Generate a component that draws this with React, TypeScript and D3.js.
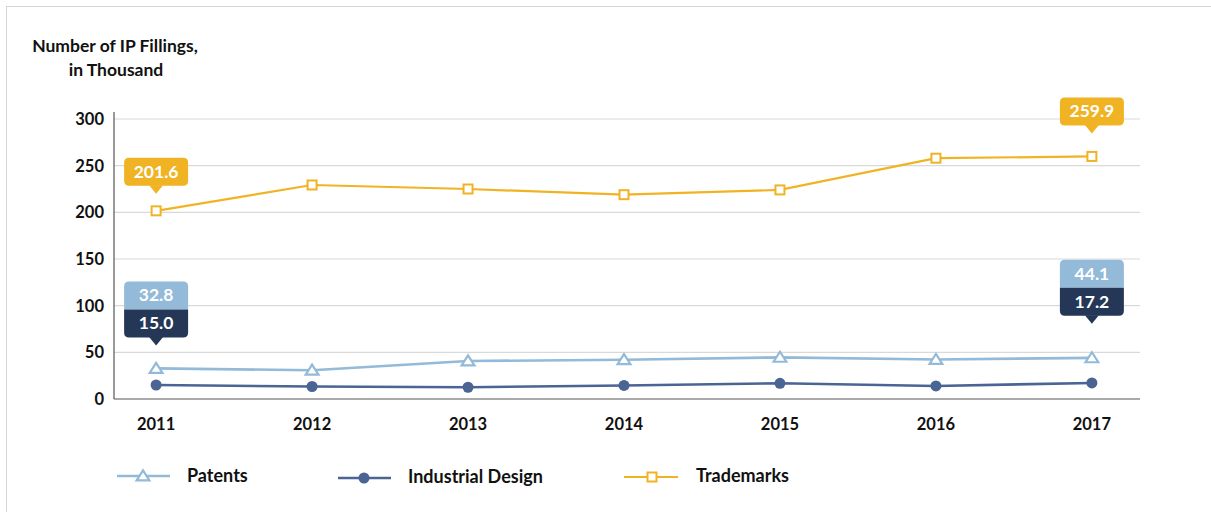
import React from "react";
import * as d3 from "d3";

const years = ["2011", "2012", "2013", "2014", "2015", "2016", "2017"];
const patents = [32.8, 30.8, 40.7, 42.1, 44.6, 42.3, 44.1];
const industrialDesign = [15.0, 13.4, 12.6, 14.5, 16.8, 14.0, 17.2];
const trademarks = [201.6, 229.3, 225.0, 218.9, 224.0, 258.0, 259.9];
const yTicks = [0, 50, 100, 150, 200, 250, 300];

const C_PAT = "#93BAD8";
const C_ID = "#4A6494";
const C_ID_DARK = "#253757";
const C_TM = "#F0B323";
const FONT = "Lato, 'Open Sans', sans-serif";

export default function App() {
  const W = 1211, H = 512;
  const left = 114, right = 1140, top = 119, bottom = 399;
  const x = d3.scalePoint<string>().domain(years).range([left, 1134]).padding(0.27);
  const y = d3.scaleLinear().domain([0, 300]).range([bottom, top]);
  const line = d3.line<number>().x((_, i) => x(years[i])!).y((d) => y(d));

  const tri = (cx: number, cy: number, s: number) =>
    `M${cx},${cy - s * 0.7}L${cx + s * 0.8},${cy + s * 0.55}L${cx - s * 0.8},${cy + s * 0.55}Z`;

  const callout = (cx: number, tipY: number, parts: { v: number; fill: string }[], key: string) => {
    const w = 64, h = 28, tipH = 8, tipW = 7;
    const totalH = h * parts.length;
    const bottomY = tipY - tipH;
    const topY = bottomY - totalH;
    const lastFill = parts[parts.length - 1].fill;
    return (
      <g key={key}>
        {parts.map((p, i) => {
          const yy = topY + i * h;
          const rTop = i === 0, rBot = i === parts.length - 1;
          const r = 5;
          const x0 = cx - w / 2, x1 = cx + w / 2, y0 = yy, y1 = yy + h;
          const d =
            `M${x0 + (rTop ? r : 0)},${y0}` +
            `L${x1 - (rTop ? r : 0)},${y0}` +
            (rTop ? `Q${x1},${y0} ${x1},${y0 + r}` : "") +
            `L${x1},${y1 - (rBot ? r : 0)}` +
            (rBot ? `Q${x1},${y1} ${x1 - r},${y1}` : "") +
            `L${x0 + (rBot ? r : 0)},${y1}` +
            (rBot ? `Q${x0},${y1} ${x0},${y1 - r}` : "") +
            `L${x0},${y0 + (rTop ? r : 0)}` +
            (rTop ? `Q${x0},${y0} ${x0 + r},${y0}` : "") +
            "Z";
          return (
            <g key={i}>
              <path d={d} fill={p.fill} />
              <text x={cx} y={yy + h / 2 + 6} textAnchor="middle" fill="#fff" fontSize={17.5} fontWeight={700} fontFamily={FONT}>
                {p.v.toFixed(1)}
              </text>
            </g>
          );
        })}
        <path d={`M${cx - tipW},${bottomY - 0.5}L${cx + tipW},${bottomY - 0.5}L${cx},${tipY}Z`} fill={lastFill} />
      </g>
    );
  };

  const n = years.length;
  return (
    <svg width={W} height={H} style={{ position: "absolute", left: 0, top: 0, background: "#fff" }}>
      <line x1={6} y1={6.5} x2={W} y2={6.5} stroke="#d6d6d6" />
      <line x1={6.5} y1={6} x2={6.5} y2={H} stroke="#d6d6d6" />

      <text x={115} y={52} textAnchor="middle" fontSize={17.5} fontWeight={700} fontFamily={FONT} fill="#111">
        Number of IP Fillings,
      </text>
      <text x={116} y={76} textAnchor="middle" fontSize={17.5} fontWeight={700} fontFamily={FONT} fill="#111">
        in Thousand
      </text>

      {yTicks.map((t) => (
        <g key={t}>
          {t > 0 && <line x1={left} x2={right} y1={y(t)} y2={y(t)} stroke="#d9d9d9" strokeWidth={1.2} />}
          <text x={104} y={y(t) + 6} textAnchor="end" fontSize={16.5} fontWeight={700} fontFamily={FONT} fill="#111">
            {t}
          </text>
        </g>
      ))}
      <line x1={left} x2={left} y1={112} y2={bottom} stroke="#555" strokeWidth={1.2} />
      <line x1={left} x2={right} y1={bottom} y2={bottom} stroke="#555" strokeWidth={1.2} />

      {years.map((yr) => (
        <text key={yr} x={x(yr)} y={430} textAnchor="middle" fontSize={16.5} fontWeight={700} fontFamily={FONT} fill="#111">
          {yr}
        </text>
      ))}

      <path d={line(trademarks)!} fill="none" stroke={C_TM} strokeWidth={2.2} />
      <path d={line(patents)!} fill="none" stroke={C_PAT} strokeWidth={2.6} />
      <path d={line(industrialDesign)!} fill="none" stroke={C_ID} strokeWidth={2.6} />

      {trademarks.map((v, i) => (
        <rect key={"tm" + i} x={x(years[i])! - 4.5} y={y(v) - 4.5} width={9} height={9} fill="#fff" stroke={C_TM} strokeWidth={2} />
      ))}
      {patents.map((v, i) => (
        <path key={"p" + i} d={tri(x(years[i])!, y(v), 8)} fill="#fff" stroke={C_PAT} strokeWidth={2.2} />
      ))}
      {industrialDesign.map((v, i) => (
        <circle key={"id" + i} cx={x(years[i])!} cy={y(v)} r={5.5} fill={C_ID} />
      ))}

      {callout(x(years[0])!, y(trademarks[0]) - 17, [{ v: trademarks[0], fill: C_TM }], "c1")}
      {callout(x(years[n - 1])!, y(trademarks[n - 1]) - 23, [{ v: trademarks[n - 1], fill: C_TM }], "c2")}
      {callout(x(years[0])!, y(patents[0]) - 23, [{ v: patents[0], fill: C_PAT }, { v: industrialDesign[0], fill: C_ID_DARK }], "c3")}
      {callout(x(years[n - 1])!, y(patents[n - 1]) - 34, [{ v: patents[n - 1], fill: C_PAT }, { v: industrialDesign[n - 1], fill: C_ID_DARK }], "c4")}

      {/* legend */}
      <g>
        <line x1={117} x2={170} y1={476} y2={476} stroke={C_PAT} strokeWidth={2.6} />
        <path d={tri(143, 476, 8)} fill="#fff" stroke={C_PAT} strokeWidth={2.2} />
        <text x={187} y={482} fontSize={18} fontWeight={700} fontFamily={FONT} fill="#111">Patents</text>

        <line x1={338} x2={391} y1={478} y2={478} stroke={C_ID} strokeWidth={2.6} />
        <circle cx={364} cy={478} r={5.5} fill={C_ID} />
        <text x={408} y={483} fontSize={18} fontWeight={700} fontFamily={FONT} fill="#111">Industrial Design</text>

        <line x1={624} x2={678} y1={477} y2={477} stroke={C_TM} strokeWidth={2.2} />
        <rect x={647.5} y={472.5} width={9} height={9} fill="#fff" stroke={C_TM} strokeWidth={2} />
        <text x={696} y={482} fontSize={18} fontWeight={700} fontFamily={FONT} fill="#111">Trademarks</text>
      </g>
    </svg>
  );
}
